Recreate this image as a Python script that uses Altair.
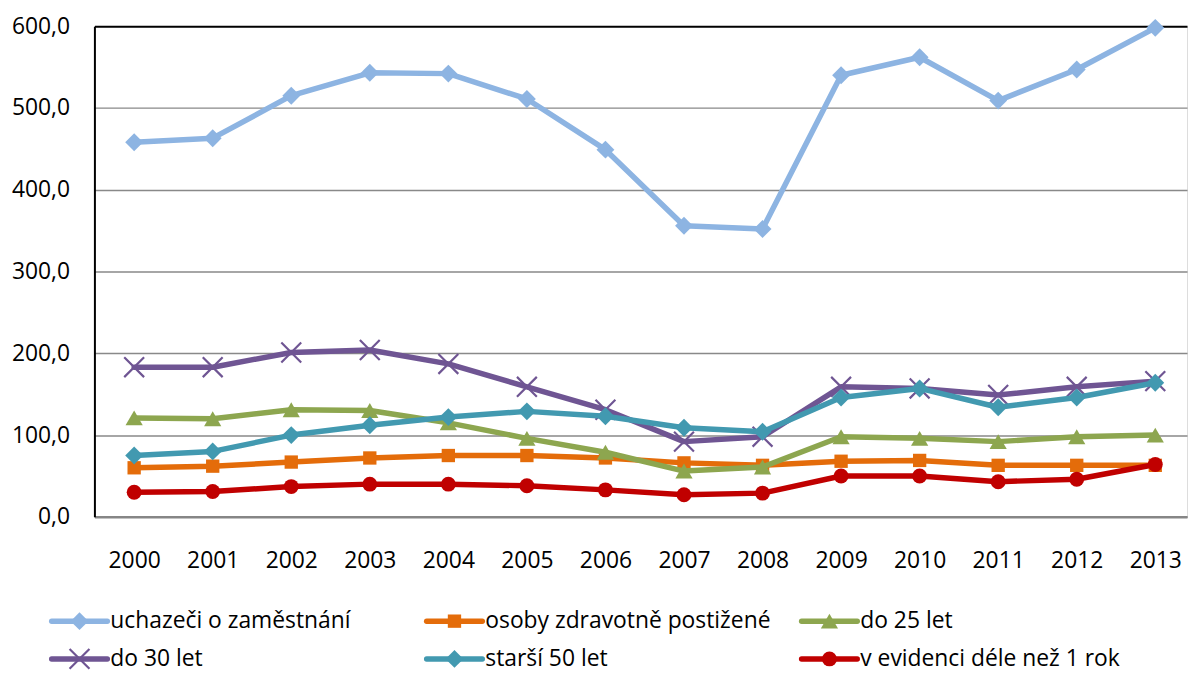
import altair as alt
import pandas as pd

YEARS = list(range(2000, 2014))
SERIES = [
    "uchazeči o zaměstnání",
    "osoby zdravotně postižené",
    "do 25 let",
    "do 30 let",
    "starší 50 let",
    "v evidenci déle než 1 rok",
]
uchazeci = [458, 463, 515, 543, 542, 511, 449, 356, 352, 540, 562, 509, 547, 598]
osoby = [60, 62, 67, 72, 75, 75, 72, 66, 63, 68, 69, 63, 63, 63]
do25 = [121, 120, 131, 130, 115, 96, 79, 56, 61, 98, 96, 92, 98, 100]
do30 = [183, 183, 201, 204, 187, 159, 131, 92, 98, 159, 157, 149, 159, 166]
starsi50 = [75, 80, 100, 112, 122, 129, 123, 109, 104, 146, 157, 134, 146, 164]
evidence = [30, 31, 37, 40, 40, 38, 33, 27, 29, 50, 50, 43, 46, 64]
VALUES = [uchazeci, osoby, do25, do30, starsi50, evidence]
Y_TICKS = [0, 100, 200, 300, 400, 500, 600]

COLORS = ["#8DB4E2", "#E46C0A", "#8DA64F", "#6F5593", "#4299B0", "#C00000"]
SHAPES = ["diamond", "square", "triangle-up", "M-1,-1L1,1M-1,1L1,-1", "diamond", "circle"]
SIZES = [324, 180, 300, 400, 324, 225]
FILLED = [True, True, True, False, True, True]

FONT = "Open Sans"
FS = 23

W, H = 1100, 494

color_scale = alt.Scale(domain=SERIES, range=COLORS)
shape_scale = alt.Scale(domain=SERIES, range=SHAPES)
x_scale = alt.Scale(type="point", domain=YEARS, padding=0.455, align=0.556)
y_scale = alt.Scale(domain=[0, 600])

frames = []
for name, vals in zip(SERIES, VALUES):
    frames.append(pd.DataFrame({"year": YEARS, "value": vals, "series": name}))

x_axis = alt.Axis(
    labelFont=FONT, labelFontSize=FS, labelColor="#000000", labelPadding=33,
    ticks=False, tickSize=0, domainColor="#868686", domainWidth=2.5, grid=False,
    labelAngle=0, title=None,
)
y_axis = alt.Axis(
    values=Y_TICKS, labelExpr="replace(format(datum.value, '.1f'), '.', ',')",
    labelFont=FONT, labelFontSize=FS, labelColor="#000000", labelPadding=25,
    ticks=False, tickSize=0, domainColor="#000000", domainWidth=2,
    gridColor={"condition": {"test": "datum.value === 600", "value": "#000000"}, "value": "#898989"},
    gridWidth={"condition": {"test": "datum.value === 600", "value": 2}, "value": 1.5},
    title=None,
)

layers = []
for i, df in enumerate(frames):
    base = alt.Chart(df)
    enc = dict(
        x=alt.X("year:O", scale=x_scale, axis=x_axis),
        y=alt.Y("value:Q", scale=y_scale, axis=y_axis),
        color=alt.Color("series:N", scale=color_scale, legend=None),
    )
    line = base.mark_line(strokeWidth=5.5, strokeJoin="round", strokeCap="round").encode(**enc)
    pts = base.mark_point(
        filled=FILLED[i], size=SIZES[i], opacity=1,
        strokeWidth=2.2 if not FILLED[i] else 0,
    ).encode(
        shape=alt.Shape("series:N", scale=shape_scale, legend=None), **enc
    )
    layers += [line, pts]

main = alt.layer(*layers)

# manual legend: 3 columns x 2 rows
COL_STEP = 377.5
SYM_LEN = 56 / COL_STEP
SYM_MID = 28 / COL_STEP
TXT_OFF = 59 / COL_STEP
leg = pd.DataFrame({
    "series": SERIES,
    "col": [i % 3 for i in range(len(SERIES))],
    "row": [i // 3 for i in range(len(SERIES))],
})
leg["x0"] = leg["col"]
leg["x1"] = leg["col"] + SYM_LEN
leg["xm"] = leg["col"] + SYM_MID
leg["xt"] = leg["col"] + TXT_OFF

lx = alt.Scale(domain=[0, 1], range=[-43, -43 + COL_STEP])
ly = alt.Scale(domain=[0, 1], range=[599, 637])

leg_layers = []
lb = alt.Chart(leg)
leg_layers.append(
    lb.mark_rule(strokeWidth=5.5, strokeCap="round").encode(
        x=alt.X("x0:Q", scale=lx, axis=None),
        x2="x1:Q",
        y=alt.Y("row:Q", scale=ly, axis=None),
        color=alt.Color("series:N", scale=color_scale, legend=None),
    )
)
for i, name in enumerate(SERIES):
    sub = leg[leg["series"] == name]
    leg_layers.append(
        alt.Chart(sub).mark_point(
            filled=FILLED[i], size=SIZES[i], opacity=1,
            strokeWidth=2.2 if not FILLED[i] else 0,
        ).encode(
            x=alt.X("xm:Q", scale=lx, axis=None),
            y=alt.Y("row:Q", scale=ly, axis=None),
            color=alt.Color("series:N", scale=color_scale, legend=None),
            shape=alt.Shape("series:N", scale=shape_scale, legend=None),
        )
    )
leg_layers.append(
    lb.mark_text(align="left", baseline="middle", font=FONT, fontSize=FS, color="#000000").encode(
        x=alt.X("xt:Q", scale=lx, axis=None),
        y=alt.Y("row:Q", scale=ly, axis=None),
        text="series:N",
    )
)
legend = alt.layer(*leg_layers)

chart = alt.layer(main, legend).resolve_scale(x="independent", y="independent").properties(
    width=W, height=H,
    autosize=alt.AutoSizeParams(type="none"),
    padding={"left": 87, "top": 16, "right": 2, "bottom": 170},
).configure_view(stroke="transparent", strokeWidth=0).configure(background="white")

chart.save("out.html", embed_options={"renderer": "svg", "actions": False})
